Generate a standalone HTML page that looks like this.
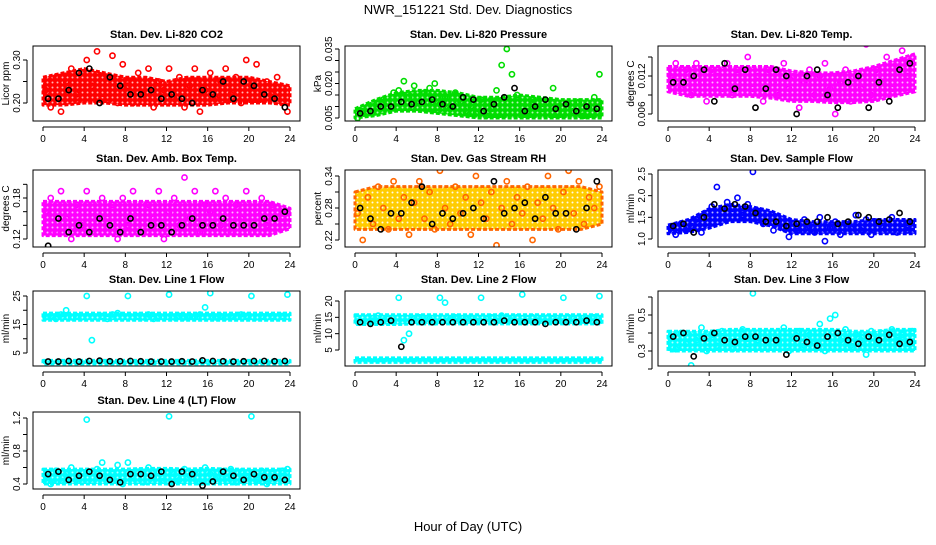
<!DOCTYPE html>
<html><head><meta charset="utf-8"><style>
body{margin:0;background:#fff;width:936px;height:540px;overflow:hidden}
svg{font-family:"Liberation Sans",sans-serif}
</style></head><body>
<svg id="chart" width="936" height="540" viewBox="0 0 936 540">
<defs id="defs"></defs>
<text x="468" y="14" font-size="13" text-anchor="middle">NWR_151221  Std. Dev. Diagnostics</text>
<text x="468" y="531" font-size="13" text-anchor="middle">Hour of Day (UTC)</text>
</svg>
<script>
const hours48=[0.25,0.75,1.25,1.75,2.25,2.75,3.25,3.75,4.25,4.75,5.25,5.75,6.25,6.75,7.25,7.75,8.25,8.75,9.25,9.75,10.25,10.75,11.25,11.75,12.25,12.75,13.25,13.75,14.25,14.75,15.25,15.75,16.25,16.75,17.25,17.75,18.25,18.75,19.25,19.75,20.25,20.75,21.25,21.75,22.25,22.75,23.25,23.75];
const hours24=[0.5,1.5,2.5,3.5,4.5,5.5,6.5,7.5,8.5,9.5,10.5,11.5,12.5,13.5,14.5,15.5,16.5,17.5,18.5,19.5,20.5,21.5,22.5,23.5];
const bandHours=[0,2,4,6,8,10,12,14,16,18,20,22,24];
const xTicks=[0,4,8,12,16,20,24];

const co2Color=[0.23,0.19,0.26,0.18,0.25,0.28,0.22,0.27,0.30,0.24,0.32,0.21,0.26,0.31,0.20,0.29,0.24,0.20,0.27,0.22,0.28,0.19,0.25,0.23,0.28,0.21,0.26,0.19,0.24,0.28,0.18,0.23,0.27,0.21,0.25,0.28,0.22,0.26,0.20,0.30,0.24,0.29,0.21,0.25,0.22,0.26,0.20,0.18];
const co2Black=[0.21,0.21,0.23,0.27,0.28,0.20,0.26,0.24,0.22,0.22,0.23,0.21,0.22,0.21,0.20,0.23,0.22,0.25,0.21,0.25,0.24,0.22,0.21,0.19];
const co2Lo=[0.195,0.195,0.20,0.20,0.195,0.195,0.195,0.195,0.195,0.20,0.20,0.20,0.195];
const co2Hi=[0.26,0.27,0.28,0.27,0.26,0.26,0.25,0.26,0.26,0.26,0.26,0.25,0.24];

const presColor=[0.005,0.008,0.007,0.010,0.011,0.013,0.012,0.016,0.017,0.021,0.014,0.019,0.012,0.016,0.018,0.020,0.011,0.014,0.009,0.016,0.012,0.008,0.010,0.007,0.013,0.006,0.009,0.017,0.028,0.035,0.024,0.015,0.010,0.008,0.013,0.007,0.009,0.012,0.018,0.010,0.007,0.011,0.008,0.012,0.006,0.009,0.014,0.024];
const presBlack=[0.007,0.008,0.010,0.010,0.012,0.011,0.012,0.013,0.011,0.010,0.014,0.013,0.008,0.011,0.014,0.018,0.008,0.010,0.013,0.009,0.011,0.008,0.010,0.009];
const presLo=[0.005,0.006,0.008,0.008,0.007,0.006,0.005,0.005,0.005,0.005,0.005,0.005,0.005];
const presHi=[0.009,0.013,0.016,0.017,0.017,0.016,0.014,0.014,0.015,0.014,0.013,0.013,0.013];

const tempColor=[0.012,0.014,0.010,0.013,0.009,0.014,0.011,0.008,0.013,0.012,0.010,0.014,0.009,0.013,0.011,0.015,0.010,0.012,0.008,0.013,0.011,0.009,0.014,0.010,0.012,0.007,0.011,0.013,0.009,0.012,0.014,0.010,0.006,0.011,0.013,0.008,0.012,0.010,0.017,0.009,0.013,0.011,0.015,0.010,0.014,0.016,0.012,0.015];
const tempBlack=[0.011,0.011,0.012,0.013,0.008,0.014,0.010,0.013,0.007,0.010,0.013,0.012,0.006,0.012,0.013,0.009,0.007,0.011,0.012,0.007,0.011,0.008,0.013,0.014];
const tempLo=[0.0095,0.0088,0.0088,0.0088,0.0088,0.0085,0.008,0.008,0.0078,0.0078,0.008,0.0088,0.0095];
const tempHi=[0.0135,0.0135,0.0135,0.0135,0.0135,0.0135,0.0128,0.0125,0.0125,0.0128,0.0135,0.0145,0.0155];

const boxColor=[0.16,0.18,0.13,0.19,0.15,0.12,0.17,0.14,0.19,0.16,0.13,0.18,0.15,0.17,0.12,0.18,0.14,0.19,0.16,0.13,0.17,0.15,0.19,0.12,0.16,0.18,0.14,0.21,0.15,0.19,0.13,0.17,0.16,0.19,0.14,0.18,0.13,0.17,0.15,0.19,0.13,0.16,0.18,0.14,0.17,0.16,0.15,0.16];
const boxBlack=[0.11,0.15,0.13,0.14,0.13,0.15,0.14,0.13,0.15,0.13,0.14,0.14,0.13,0.14,0.15,0.14,0.14,0.15,0.14,0.14,0.14,0.15,0.15,0.16];
const boxLo=[0.125,0.125,0.125,0.125,0.125,0.125,0.125,0.125,0.125,0.125,0.125,0.125,0.135];
const boxHi=[0.175,0.175,0.175,0.175,0.175,0.175,0.175,0.175,0.175,0.175,0.175,0.175,0.165];

const rhColor=[0.27,0.22,0.30,0.25,0.32,0.28,0.24,0.33,0.26,0.30,0.23,0.29,0.33,0.26,0.31,0.24,0.35,0.28,0.25,0.32,0.27,0.30,0.23,0.34,0.29,0.26,0.31,0.21,0.28,0.33,0.25,0.30,0.27,0.32,0.22,0.29,0.26,0.34,0.28,0.24,0.31,0.35,0.27,0.33,0.25,0.30,0.28,0.32];
const rhBlack=[0.28,0.26,0.24,0.27,0.27,0.29,0.32,0.25,0.27,0.26,0.27,0.28,0.26,0.33,0.27,0.28,0.29,0.26,0.30,0.27,0.27,0.24,0.28,0.33];
const rhLo=[0.24,0.24,0.24,0.24,0.24,0.24,0.24,0.24,0.24,0.24,0.24,0.24,0.25];
const rhHi=[0.31,0.32,0.32,0.32,0.32,0.32,0.32,0.32,0.32,0.32,0.32,0.32,0.31];

const flowColor=[1.25,1.1,1.35,1.2,1.3,1.45,1.15,1.6,1.75,2.2,1.5,1.85,1.7,1.95,1.55,1.8,2.55,1.65,1.35,1.5,1.2,1.4,1.25,1.05,1.35,1.2,1.45,1.3,1.15,1.5,0.95,1.25,1.4,1.1,1.35,1.25,1.55,1.2,1.45,1.1,1.4,1.3,1.25,1.5,1.15,1.35,1.2,1.3];
const flowBlack=[1.3,1.35,1.15,1.5,1.8,1.7,1.8,1.75,1.6,1.4,1.4,1.3,1.35,1.4,1.4,1.5,1.35,1.4,1.55,1.5,1.4,1.45,1.6,1.4];
const flowLo=[1.12,1.15,1.25,1.4,1.4,1.3,1.12,1.12,1.12,1.12,1.12,1.12,1.12];
const flowHi=[1.32,1.45,1.7,1.8,1.75,1.65,1.45,1.4,1.4,1.4,1.45,1.45,1.45];

const l1Color=[17.5,18,17,18.5,20,17.5,18,17.5,25,9.5,17.5,18,17,18.5,19,17.5,25,17.5,18,17.5,18.5,17,18,17.5,25.5,17.5,18,17.5,18,17.5,18.5,21,26,17.5,18,17.5,18,17.5,18.5,18,25,17.5,18,17.5,18,17.5,18,25.5];
const l1Black=[2,2,2.2,2,2.2,2.3,2.1,2.1,2.2,2.1,2,2,2,2.1,2,2.4,2.2,2.1,2,2.1,2.2,2.2,2.1,2.2];
const l1Lo=[16.5,16.5,16.5,16.5,16.5,16.5,16.5,16.5,16.5,16.5,16.5,16.5,16.5];
const l1Hi=[19,19,19,19,19,19,19,19,19,19,19,19,19];
const l1Lo2=[1.2,1.2,1.2,1.2,1.2,1.2,1.2,1.2,1.2,1.2,1.2,1.2,1.2];
const l1Hi2=[2.4,2.4,2.4,2.4,2.4,2.4,2.4,2.4,2.4,2.4,2.4,2.4,2.4];

const l2Color=[14.5,13.5,15,14,15.5,14,14.5,13.5,21,8,10,14.5,15,14,14.5,13.5,21,19.5,14.5,15,14,14.5,15,14,21,14.5,15,14,15.5,14.5,14,15,22,14.5,15,14,14.5,15,14.5,14,21,15,14.5,15,14,14.5,15,21.5];
const l2Black=[13.5,13,13.5,14,6,13.5,13.5,13.5,13.5,13.5,13.5,13.5,13.5,13.5,14,13.5,13.5,13.5,13,13.5,13.5,13.5,14,13.5];
const l2Lo=[12.8,12.8,12.8,13,13,13,13,13,13,13,13,13,13];
const l2Hi=[15.8,15.8,15.8,15.8,15.8,15.8,15.8,15.8,15.8,15.8,15.8,15.8,15.8];
const l2Lo2=[1.2,1.2,1.2,1.2,1.2,1.2,1.2,1.2,1.2,1.2,1.2,1.2,1.2];
const l2Hi2=[2.6,2.6,2.6,2.6,2.6,2.6,2.6,2.6,2.6,2.6,2.6,2.6,2.6];

const l3Color=[0.37,0.31,0.40,0.34,0.22,0.36,0.43,0.30,0.39,0.33,0.41,0.35,0.31,0.38,0.42,0.34,0.62,0.36,0.40,0.32,0.38,0.35,0.43,0.30,0.37,0.41,0.33,0.39,0.35,0.45,0.30,0.48,0.50,0.36,0.42,0.33,0.39,0.36,0.28,0.41,0.34,0.40,0.32,0.42,0.36,0.39,0.34,0.41];
const l3Black=[0.38,0.40,0.27,0.37,0.40,0.36,0.35,0.38,0.38,0.36,0.36,0.28,0.37,0.35,0.33,0.38,0.40,0.36,0.34,0.38,0.36,0.39,0.34,0.35];
const l3Lo=[0.30,0.30,0.30,0.30,0.30,0.30,0.30,0.30,0.30,0.30,0.30,0.30,0.30];
const l3Hi=[0.41,0.41,0.41,0.42,0.42,0.42,0.42,0.42,0.42,0.41,0.41,0.42,0.42];

const l4Color=[0.50,0.40,0.56,0.44,0.52,0.60,0.45,0.55,1.18,0.48,0.58,0.66,0.44,0.52,0.63,0.40,0.66,0.50,0.55,0.42,0.60,0.48,0.55,0.44,1.22,0.52,0.45,0.58,0.50,0.55,0.42,0.60,0.52,0.46,0.56,0.48,0.58,0.42,0.55,0.50,1.22,0.45,0.56,0.40,0.52,0.48,0.56,0.58];
const l4Black=[0.52,0.55,0.45,0.50,0.55,0.50,0.45,0.42,0.52,0.52,0.50,0.55,0.40,0.55,0.52,0.38,0.43,0.55,0.50,0.45,0.52,0.48,0.48,0.45];
const l4Lo=[0.40,0.40,0.40,0.40,0.40,0.40,0.40,0.40,0.40,0.40,0.40,0.40,0.40];
const l4Hi=[0.58,0.58,0.58,0.58,0.58,0.59,0.59,0.58,0.59,0.58,0.58,0.58,0.58];

const NS='http://www.w3.org/2000/svg';
const svg=document.getElementById('chart');
const defs=document.getElementById('defs');
function mk(tag,attrs,parent){const e=document.createElementNS(NS,tag);for(const k in attrs)e.setAttribute(k,attrs[k]);(parent||svg).appendChild(e);return e;}

const colL=[33,345,658];
const rowT=[[46,121],[170,247],[291,366],[412,489]];
const panels=[
{id:'co2',title:'Stan. Dev. Li-820 CO2',yl:'Licor ppm',col:0,row:0,color:'#ff0000',v1:0.20,p1:103,v2:0.30,p2:60,ticks:[0.20,0.25,0.30],labels:[0.20,0.30],fmt:2,c:co2Color,b:co2Black,bands:[[co2Lo,co2Hi]]},
{id:'pressure',title:'Stan. Dev. Li-820 Pressure',yl:'kPa',col:1,row:0,color:'#00dd00',v1:0.005,p1:118,v2:0.035,p2:49,ticks:[0.005,0.010,0.015,0.020,0.025,0.030,0.035],labels:[0.005,0.020,0.035],fmt:3,c:presColor,b:presBlack,bands:[[presLo,presHi]]},
{id:'temp',title:'Stan. Dev. Li-820 Temp.',yl:'degrees C',col:2,row:0,color:'#ff00ff',v1:0.006,p1:114,v2:0.012,p2:76,ticks:[0.006,0.009,0.012,0.015],labels:[0.006,0.012],fmt:3,c:tempColor,b:tempBlack,bands:[[tempLo,tempHi]]},
{id:'box-temp',title:'Stan. Dev. Amb. Box Temp.',yl:'degrees C',col:0,row:1,color:'#ff00ff',v1:0.12,p1:239,v2:0.18,p2:198,ticks:[0.12,0.14,0.16,0.18,0.20],labels:[0.12,0.18],fmt:2,c:boxColor,b:boxBlack,bands:[[boxLo,boxHi]]},
{id:'rh',title:'Stan. Dev. Gas Stream RH',yl:'percent',col:1,row:1,color:'#ff6600',v1:0.22,p1:240,v2:0.34,p2:176,ticks:[0.22,0.25,0.28,0.31,0.34],labels:[0.22,0.28,0.34],fmt:2,c:rhColor,b:rhBlack,bands:[[rhLo,rhHi]],fill:'#ffcc00'},
{id:'sample-flow',title:'Stan. Dev. Sample Flow',yl:'ml/min',col:2,row:1,color:'#0000ff',v1:1.0,p1:239,v2:2.5,p2:174,ticks:[1.0,1.5,2.0,2.5],labels:[1.0,1.5,2.0,2.5],fmt:1,c:flowColor,b:flowBlack,bands:[[flowLo,flowHi]]},
{id:'line1',title:'Stan. Dev. Line 1 Flow',yl:'ml/min',col:0,row:2,color:'#00ffff',v1:5,p1:353,v2:25,p2:296,ticks:[5,10,15,20,25],labels:[5,15,25],fmt:0,c:l1Color,b:l1Black,bands:[[l1Lo,l1Hi],[l1Lo2,l1Hi2]]},
{id:'line2',title:'Stan. Dev. Line 2 Flow',yl:'ml/min',col:1,row:2,color:'#00ffff',v1:5,p1:350,v2:20,p2:301,ticks:[5,10,15,20],labels:[5,10,15,20],fmt:0,c:l2Color,b:l2Black,bands:[[l2Lo,l2Hi],[l2Lo2,l2Hi2]]},
{id:'line3',title:'Stan. Dev. Line 3 Flow',yl:'ml/min',col:2,row:2,color:'#00ffff',v1:0.3,p1:351,v2:0.5,p2:315,ticks:[0.2,0.3,0.4,0.5,0.6],labels:[0.3,0.5],fmt:1,c:l3Color,b:l3Black,bands:[[l3Lo,l3Hi]]},
{id:'line4',title:'Stan. Dev. Line 4 (LT) Flow',yl:'ml/min',col:0,row:3,color:'#00ffff',v1:0.4,p1:484,v2:1.2,p2:418,ticks:[0.4,0.6,0.8,1.0,1.2],labels:[0.4,0.8,1.2],fmt:1,c:l4Color,b:l4Black,bands:[[l4Lo,l4Hi]]}
];

panels.forEach(P=>{
  const L=colL[P.col],R=L+267,T=rowT[P.row][0],B=rowT[P.row][1];
  const x=h=>L+10+h*(247/24);
  const y=v=>P.p1+(v-P.v1)*(P.p2-P.p1)/(P.v2-P.v1);
  // texture pattern mimicking overlapping open circles
  const pat=mk('pattern',{id:'pat-'+P.id,width:5,height:5,patternUnits:'userSpaceOnUse'},defs);
  mk('rect',{width:5,height:5,fill:P.fill||P.color},pat);
  mk('circle',{cx:2.5,cy:2.5,r:1,fill:'#fff','fill-opacity':P.fill?0.9:0.7},pat);
  const g=mk('g',{});
  
  
  const cp=mk('clipPath',{id:'clip-'+P.id},g);
  mk('rect',{x:L,y:T,width:267,height:B-T},cp);
  const t=mk('text',{x:(L+R)/2,y:T-8,'font-size':'11','font-weight':'bold','text-anchor':'middle'},g);
  t.textContent=P.title;
  
  
  const data=mk('g',{'clip-path':'url(#clip-'+P.id+')'},g);
  P.bands.forEach((bd,bi)=>{
    let d='';
    bandHours.forEach((h,i)=>{d+=(i?'L':'M')+x(h)+','+y(bd[1][i]);});
    for(let i=bandHours.length-1;i>=0;i--)d+='L'+x(bandHours[i])+','+y(bd[0][i]);
    const p=mk('path',{d:d+'Z',fill:'url(#pat-'+P.id+')',stroke:P.color,'stroke-width':3,'stroke-linejoin':'round','stroke-dasharray':'4 2'},data);
    
    
  });
  P.c.forEach((v,i)=>{
    const c=mk('circle',{cx:x(hours48[i]),cy:y(v),r:2.6,fill:'none',stroke:P.color,'stroke-width':1.6},data);
    
    
  });
  P.b.forEach((v,i)=>{
    const c=mk('circle',{cx:x(hours24[i]),cy:y(v),r:2.6,fill:'none',stroke:'#000','stroke-width':1.6},data);
    
    
  });
  const box=mk('rect',{x:L,y:T,width:267,height:B-T,fill:'none',stroke:'#000','stroke-width':1},g);
  
  
  mk('line',{x1:x(0),x2:x(24),y1:B+6,y2:B+6,stroke:'#000'},g);
  xTicks.forEach(h=>{
    mk('line',{x1:x(h),x2:x(h),y1:B+6,y2:B+10,stroke:'#000'},g);
    const tl=mk('text',{x:x(h),y:B+21,'font-size':'10','text-anchor':'middle'},g);
    tl.textContent=h;
    
    
  });
  const t0=P.ticks[0],t1=P.ticks[P.ticks.length-1];
  mk('line',{x1:L-6,x2:L-6,y1:y(t0),y2:y(t1),stroke:'#000'},g);
  P.ticks.forEach(v=>mk('line',{x1:L-10,x2:L-6,y1:y(v),y2:y(v),stroke:'#000'},g));
  P.labels.forEach(v=>{
    const yl=mk('text',{x:L-13,y:y(v),'font-size':'10','text-anchor':'middle',transform:'rotate(-90 '+(L-13)+' '+y(v)+')'},g);
    yl.textContent=v.toFixed(P.fmt);
    
    
  });
  const ya=mk('text',{x:L-24,y:(T+B)/2,'font-size':'10','text-anchor':'middle',transform:'rotate(-90 '+(L-24)+' '+(T+B)/2+')'},g);
  ya.textContent=P.yl;
  
  
});
</script>
</body></html>
